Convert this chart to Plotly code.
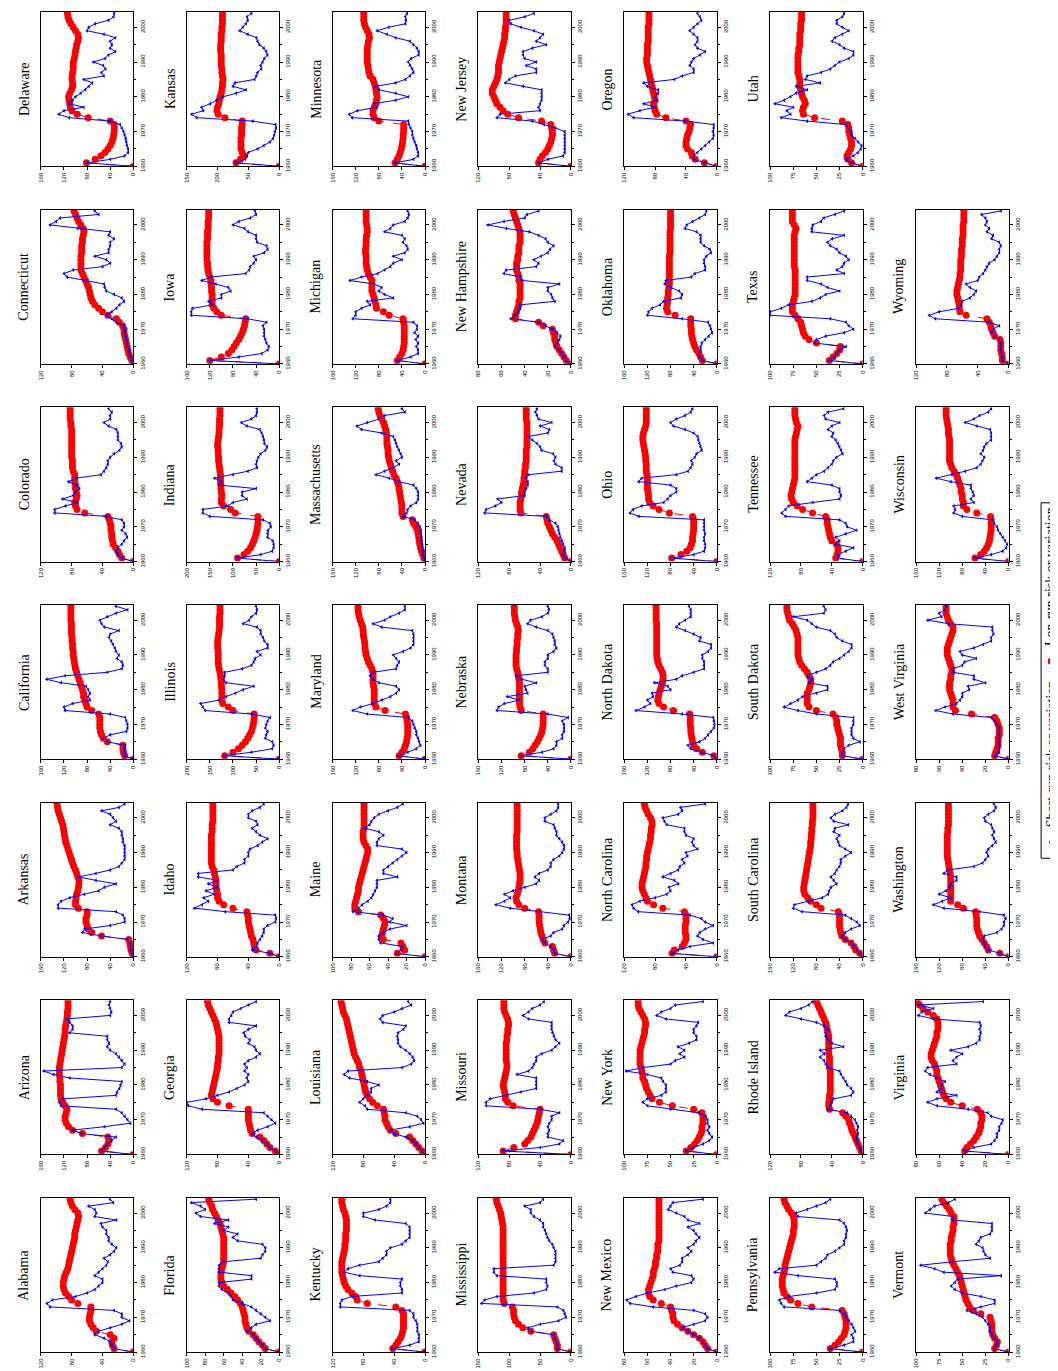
import plotly.graph_objects as go

W, H = 1058, 1371
years = list(range(1960, 2005))

# ---------------- data ----------------
alabama_long = [0,25,27,28,25,30,48,52,55,57, 57,56,55,55,72,80,84,88,90,91, 91,90,89,87,85,84,83,82,81,80, 79,78,77,76,76,75,74,73,72,71, 72,76,79,81,82]
alabama_short = [0,25,28,30,38,50,45,30,15,5, 15,15,25,108,112,105,75,60,50,45, 40,40,50,45,40,35,33,38,30,25, 22,28,32,32,35,35,40,42,22,50, 48,50,58,26,30]
arizona_long = [0,55,48,44,42,44,88,105,112,116, 118,118,116,115,118,122,125,126,126,126, 126,127,127,128,128,128,127,126,125,124, 123,122,121,120,119,118,118,117,116,115, 114,114,113,113,113]
arizona_short = [0,55,50,45,38,30,90,105,50,5, 10,15,20,30,125,128,122,30,28,24, 22,20,110,138,155,20,15,20,25,30, 40,45,42,45,45,110,105,105,110,115, 40,38,40,42,40]
arkansas_long = [0,2,4,5,6,8,55,72,78,80, 82,82,80,80,95,100,100,99,98,96, 95,94,94,96,98,100,103,105,107,109, 111,113,115,117,118,119,120,121,122,124, 126,128,130,131,132]
arkansas_short = [0,2,4,5,6,10,55,88,84,40, 15,15,18,30,130,130,125,110,85,60, 50,30,65,95,65,40,25,20,15,15, 15,15,15,18,18,20,20,25,40,30, 35,40,55,25,15]
california_long = [0,15,17,18,18,45,52,55,57,58, 58,58,58,60,72,80,82,84,86,86, 88,90,92,94,96,98,100,101,102,103, 104,104,105,105,106,106,107,107,107,107, 108,108,108,108,108]
california_short = [0,15,16,15,14,45,52,40,12,10, 10,12,14,40,118,120,105,75,78,75, 78,82,125,150,118,45,20,18,20,28, 25,30,32,35,38,42,40,25,50,55, 58,45,30,10,30]
colorado_long = [0,15,18,20,23,26,27,28,28,29, 29,30,31,33,63,73,75,76,74,73, 74,75,75,76,76,76,78,79,79,79, 80,80,80,80,80,80,80,80,80,81, 81,82,82,82,82]
colorado_short = [0,15,20,22,20,15,12,8,10,15, 12,12,15,35,102,102,88,72,92,78, 75,70,74,84,74,42,38,35,33,33, 30,25,18,15,16,20,20,20,22,32, 38,30,30,28,32]
connecticut_long = [0,2,4,6,7,8,9,10,11,12, 12,14,18,22,33,40,45,50,53,55, 56,57,58,60,62,64,66,68,68,68, 68,68,67,67,67,66,66,65,64,65, 68,71,73,75,77]
connecticut_short = [0,2,4,5,6,7,8,9,10,11, 12,12,22,28,35,28,22,18,12,15, 25,35,37,38,62,86,90,78,40,30, 35,50,32,32,30,30,25,32,30,72, 108,100,95,45,50]
delaware_long = [0,81,66,56,49,44,40,37,35,34, 33,33,33,40,78,97,106,109,110,111, 112,110,107,105,105,106,106,105,104,104, 104,102,101,100,99,98,96,95,96,100, 104,108,111,113,114]
delaware_short = [0,80,40,15,9,9,11,12,13,15, 17,20,23,40,111,129,120,86,111,105, 100,91,83,77,71,86,51,55,48,52, 69,49,43,31,40,37,40,31,51,80, 77,66,43,34,33]
florida_long = [0,15,18,22,25,28,33,35,36,37, 37,38,39,40,42,45,48,52,56,60, 62,63,63,63,62,61,60,60,60,60, 60,60,60,60,61,62,63,64,66,68, 70,72,73,75,76]
florida_short = [0,15,18,22,25,28,35,30,25,10, 15,20,25,30,40,50,52,55,62,65, 65,30,30,65,65,65,60,20,18,15, 15,18,45,50,45,60,55,70,55,85, 90,80,85,95,25]
georgia_long = [0,5,12,16,20,25,35,37,38,39, 40,40,40,40,65,80,86,88,87,86, 85,84,83,82,81,80,80,79,79,78, 78,78,78,78,78,79,80,81,82,84, 86,88,90,92,93]
georgia_short = [0,5,12,16,22,30,35,28,15,5, 10,15,20,100,118,120,95,80,65,55, 45,40,42,40,45,42,45,40,30,25, 30,32,40,38,44,46,40,30,65,65, 62,60,50,40,30]
idaho_long = [0,12,30,32,33,34,36,37,38,39, 40,40,41,42,60,72,78,80,80,81, 82,82,82,83,84,85,87,88,88,88, 88,88,88,88,88,88,87,87,87,86, 86,86,86,86,86]
idaho_short = [0,12,35,30,28,25,22,20,20,15, 5,4,5,70,110,100,92,98,84,95, 80,92,80,105,105,60,55,45,45,40, 40,38,28,22,15,25,30,35,28,30, 40,40,35,25,20]
illinois_long = [0,118,100,88,80,73,68,64,60,58, 56,55,54,54,100,110,122,124,124,124, 124,125,125,126,127,128,130,131,132,132, 132,132,133,133,133,132,131,130,129,129, 129,129,128,128,128]
illinois_short = [0,118,60,15,12,15,30,28,25,30, 28,25,20,60,160,165,170,130,115,95, 78,55,115,120,118,118,80,60,55,52, 40,48,25,25,32,35,40,40,48,78, 65,60,50,48,50]
indiana_long = [0,90,76,68,62,58,55,52,50,48, 47,46,46,46,95,105,120,125,125,124, 125,126,126,127,127,127,128,129,130,131, 131,132,132,133,133,132,131,130,130,129, 129,129,128,128,128]
indiana_short = [0,90,40,15,12,12,14,25,25,24, 18,20,35,150,165,165,110,100,70,80, 80,50,130,125,140,100,68,48,50,48, 45,40,30,26,32,33,35,38,42,70, 82,60,50,48,48]
iowa_long = [0,120,100,88,82,78,74,70,67,64, 62,60,59,58,100,108,113,116,116,116, 116,117,117,118,118,120,122,123,124,124, 125,125,125,125,125,125,124,124,124,123, 123,123,122,122,122]
iowa_short = [0,120,70,30,20,18,22,24,26,26, 26,28,22,55,152,152,150,115,122,100, 100,84,88,110,134,118,58,52,50,44, 40,44,26,20,22,38,40,40,54,60, 80,70,50,40,42]
kansas_long = [0,70,63,57,60,62,62,62,62,61, 61,61,60,60,88,99,101,100,98,97, 96,94,93,92,92,91,92,93,93,94, 94,94,94,95,95,95,94,94,94,93, 93,92,92,92,92]
kansas_short = [0,70,55,52,50,35,25,15,10,8, 7,5,6,43,134,142,123,126,112,102, 91,70,54,75,72,40,37,35,29,30, 27,24,19,21,25,32,35,37,51,64, 59,54,51,52,45]
kentucky_long = [0,42,38,35,32,30,29,28,28,28, 28,28,30,38,75,88,90,95,100,103, 105,106,107,108,108,108,108,107,106,105, 104,104,103,103,103,102,102,102,102,103, 104,106,107,108,108]
kentucky_short = [0,42,20,8,8,8,10,10,10,12, 15,15,20,110,110,108,95,30,30,32, 32,30,85,105,100,85,60,55,50,50, 45,30,25,20,20,20,20,25,65,80, 80,60,50,45,45]
louisiana_long = [0,4,8,12,16,20,38,45,48,50, 52,52,53,54,62,68,72,75,77,78, 79,80,81,82,83,85,86,88,90,92, 93,94,95,96,97,98,99,100,101,102, 104,106,107,108,109]
louisiana_short = [0,4,8,12,16,25,40,45,20,2, 5,10,25,75,78,85,80,75,70,70, 60,75,98,105,100,30,18,14,16,20, 25,32,35,35,36,35,28,25,55,58, 55,40,30,18,22]
maine_long = [0,30,22,24,26,45,47,46,45,44, 43,45,48,72,76,76,75,74,73,72, 72,71,70,69,68,67,66,65,64,63, 62,62,64,66,67,67,67,66,66,66, 66,66,66,66,66]
maine_short = [0,30,26,25,48,50,50,45,38,20, 38,35,45,78,72,68,62,58,56,54, 52,52,52,30,45,45,40,35,30,25, 20,25,52,52,50,45,50,65,60,58, 55,50,40,30,24]
maryland_long = [0,45,40,36,34,32,31,30,30,30, 30,31,32,34,69,85,88,88,88,88, 88,89,90,90,90,90,92,95,98,100, 102,103,104,104,105,106,107,107,108,110, 112,114,115,116,116]
maryland_short = [0,45,30,15,8,10,12,15,15,18, 20,22,30,100,125,112,90,75,60,50, 45,50,80,90,95,90,50,48,45,50, 55,38,25,20,20,20,20,22,75,90, 70,60,45,35,35]
massachusetts_long = [0,2,4,6,8,9,10,11,12,13, 16,20,22,38,40,40,40,41,42,43, 44,45,46,48,50,54,56,58,60,62, 63,64,64,65,66,66,66,67,68,70, 72,75,78,80,81]
massachusetts_short = [0,2,3,4,5,5,6,6,7,7, 9,12,18,38,32,30,25,15,12,12, 12,15,20,45,62,85,70,55,45,50, 40,42,45,48,50,52,55,75,110,118, 100,80,70,35,40]
michigan_long = [0,48,44,40,38,37,36,36,36,36, 36,36,37,38,62,72,84,85,87,88, 90,92,92,92,92,95,98,100,101,102, 102,102,103,103,102,102,102,101,100,100, 101,102,102,102,102]
michigan_short = [0,48,25,12,12,15,12,16,12,18, 14,14,20,125,120,120,110,95,100,55, 70,80,75,88,130,110,82,70,60,55, 40,55,35,30,32,38,35,40,70,60, 55,35,30,28,30]
minnesota_long = [0,52,48,45,43,41,40,39,38,38, 37,37,37,80,88,90,90,88,85,84, 83,84,85,86,88,90,95,97,98,99, 100,100,100,100,100,99,98,96,97,100, 103,105,106,106,106]
minnesota_short = [0,52,20,12,12,14,15,18,20,22, 22,25,28,29,126,131,117,83,89,51, 29,51,80,86,51,34,26,20,22,26, 29,24,11,11,14,20,26,51,66,83, 63,34,33,34,31]
mississippi_long = [0,22,22,24,26,28,65,78,85,90, 92,93,93,95,108,110,110,110,110,110, 110,110,110,110,110,110,110,110,110,110, 110,110,110,110,110,110,110,111,112,113, 114,116,118,120,121]
mississippi_short = [0,22,22,24,26,28,65,70,50,20, 8,10,12,22,145,140,120,60,40,38, 40,40,120,125,125,28,25,25,25,25, 28,30,35,38,40,42,45,45,50,60, 65,65,75,50,45]
missouri_long = [0,88,74,60,56,52,50,48,46,44, 43,42,41,40,75,82,85,85,86,87, 88,87,86,85,84,83,83,84,84,84, 84,84,84,83,83,82,82,81,81,82, 84,86,87,87,87]
missouri_short = [0,88,40,15,10,30,30,28,30,28, 25,25,15,40,110,110,105,85,65,45, 45,45,45,70,55,50,48,45,45,38, 25,20,15,20,22,24,25,25,25,55, 62,55,50,40,35]
montana_long = [0,28,30,32,45,48,50,52,53,54, 55,55,55,56,80,90,94,95,93,91, 90,89,88,88,88,89,90,91,92,93, 93,94,94,94,94,94,93,93,93,93, 93,93,93,93,93]
montana_short = [0,28,30,35,45,50,35,30,15,12, 5,2,3,55,105,130,115,105,115,100, 80,60,55,62,55,40,35,35,30,20, 15,12,12,15,20,25,25,28,30,45, 45,35,25,22,22]
nebraska_long = [0,86,72,66,62,58,55,52,50,49, 48,48,48,48,86,88,89,89,89,89, 89,89,89,90,91,92,94,95,95,95, 95,94,94,93,93,92,92,91,92,94, 96,97,98,98,98]
nebraska_short = [0,86,50,30,25,25,15,15,12,12, 12,15,5,40,128,125,115,90,110,75, 78,80,60,85,95,40,40,45,45,40, 40,30,25,28,28,30,32,40,60,75, 70,50,40,38,40]
nevada_long = [0,8,10,12,14,16,18,21,24,26, 28,30,31,32,65,66,66,66,65,64, 64,63,62,61,61,60,60,59,59,58, 58,58,58,57,57,57,57,57,57,57, 57,58,58,58,58]
nevada_short = [0,8,10,8,8,10,12,14,15,16, 17,20,28,32,112,110,98,90,95,60, 60,58,56,56,58,55,12,12,20,22, 20,23,38,40,44,50,55,30,28,40, 25,42,44,46,44]
new_hampshire_long = [0,4,6,8,10,12,13,14,14,15, 16,24,28,48,48,47,46,45,45,44, 44,44,44,44,45,45,46,47,47,47, 46,46,45,45,45,44,44,44,44,45, 46,47,48,49,50]
new_hampshire_short = [0,4,6,8,10,14,12,10,9,12, 16,22,28,52,48,46,44,44,14,16, 17,20,20,10,42,44,58,56,30,28, 32,26,20,18,15,20,22,28,36,56, 72,58,40,38,28]
new_jersey_long = [0,42,40,37,33,30,28,26,25,24, 24,25,26,38,68,82,88,92,96,98, 100,102,102,100,98,96,95,94,94,94, 93,92,91,90,89,88,87,86,86,85, 85,84,84,84,84]
new_jersey_short = [0,42,30,10,8,8,8,8,8,8, 8,20,35,50,96,92,40,42,40,38, 38,38,38,62,85,80,72,45,45,58, 45,60,62,62,50,32,45,40,36,48, 65,78,80,60,48]
new_mexico_long = [0,8,10,12,15,20,25,30,34,37, 38,38,39,40,48,55,58,59,59,58, 57,56,55,55,54,53,53,52,52,51, 51,51,50,50,50,50,50,50,50,50, 50,50,50,50,50]
new_mexico_short = [0,8,10,12,15,20,25,30,20,10, 8,10,20,55,75,78,70,60,45,35, 22,20,22,38,40,32,30,30,25,22, 25,20,18,15,18,20,25,15,25,28, 35,42,40,38,12]
new_york_long = [0,33,28,24,21,19,17,16,16,15, 15,15,16,25,48,62,70,72,74,76, 77,78,80,80,81,82,83,83,83,83, 83,82,81,80,79,78,78,77,77,78, 80,82,84,85,85]
new_york_short = [0,33,25,15,8,5,8,10,8,10, 10,12,20,50,75,80,75,60,55,55, 55,58,60,75,98,80,50,45,35,40, 35,42,30,22,22,25,25,22,20,55, 65,60,50,45,15]
north_carolina_long = [0,58,55,45,42,40,40,41,41,41, 40,40,40,42,70,82,90,92,94,96, 97,97,96,95,94,93,92,92,91,91, 90,89,88,87,86,86,85,85,84,84, 86,89,91,93,94]
north_carolina_short = [0,58,50,35,5,18,25,22,15,5, 15,20,35,102,108,110,100,80,65,60, 62,50,55,70,60,50,48,42,45,38, 40,25,30,32,30,40,42,42,65,68, 70,50,45,47,15]
north_dakota_long = [0,5,25,35,40,42,43,44,45,45, 46,46,46,47,75,92,100,102,101,100, 98,96,94,93,93,94,97,100,102,103, 104,104,104,104,104,104,104,104,104,104, 105,105,105,105,105]
north_dakota_short = [0,5,25,45,50,30,20,15,10,5, 4,5,6,60,140,125,115,120,110,112, 80,85,108,70,60,40,22,22,22,25, 25,15,10,10,30,28,40,55,70,65, 55,45,45,45,48]
ohio_long = [0,78,62,52,46,44,42,42,41,40, 40,40,40,42,82,100,110,116,118,118, 119,120,120,120,120,121,122,122,122,123, 123,124,125,126,127,128,128,127,125,123, 122,122,122,122,122]
ohio_short = [0,78,40,22,20,20,22,22,20,22, 22,22,22,135,150,145,130,92,85,80, 70,70,80,135,130,70,50,45,42,44, 38,35,26,28,30,32,33,40,55,75, 80,70,55,45,42]
oklahoma_long = [0,25,28,31,35,38,40,42,43,44, 44,45,45,45,72,85,87,86,85,85, 84,84,83,82,82,82,82,82,82,82, 82,82,81,81,81,81,81,81,81,80, 80,80,80,80,80]
oklahoma_short = [0,25,30,30,28,28,26,20,14,8, 10,12,15,60,120,118,112,98,92,62, 60,65,80,90,88,44,38,20,20,22, 22,18,10,12,22,28,28,28,35,55, 52,42,30,20,18]
oregon_long = [0,16,28,32,33,38,40,40,39,38, 36,35,34,40,66,78,80,81,82,80, 81,82,83,84,85,86,87,88,89,90, 91,91,90,90,90,90,89,89,89,89, 89,88,88,88,88]
oregon_short = [0,16,30,30,25,20,15,10,5,4, 5,4,4,40,108,115,100,80,95,78, 80,76,76,90,95,55,45,30,30,35, 33,30,22,15,25,28,25,25,30,35, 30,25,20,22,25]
pennsylvania_long = [0,35,30,26,23,20,19,18,18,18, 19,20,22,55,70,78,82,85,86,87, 87,87,86,85,84,84,83,82,81,80, 79,78,77,76,75,75,74,74,74,75, 77,80,82,84,85]
pennsylvania_short = [0,35,20,10,10,12,8,10,12,15, 18,20,25,85,88,90,80,50,30,28, 28,30,70,95,90,50,45,40,38,30, 25,20,20,18,18,17,18,20,25,70, 72,60,50,40,35]
rhode_island_long = [0,2,4,6,8,10,12,14,15,17, 18,22,26,43,44,44,43,43,42,42, 42,42,42,42,42,43,43,43,43,44, 44,44,44,44,44,45,46,47,48,50, 52,54,56,58,60]
rhode_island_short = [0,2,4,6,8,8,6,7,6,8, 10,15,20,45,42,40,38,15,12,15, 20,22,25,28,30,45,48,50,55,50, 55,25,40,45,48,48,45,50,60,80, 100,95,80,70,65]
south_carolina_long = [0,5,12,15,20,30,36,38,39,40, 40,40,40,42,72,80,90,95,100,102, 102,101,100,99,98,97,96,95,94,93, 92,91,90,90,89,89,88,88,87,87, 86,86,86,86,86]
south_carolina_short = [0,5,10,15,20,30,36,30,20,5, 10,20,30,105,120,118,95,70,60,58, 55,45,50,55,48,45,40,38,38,30, 20,30,40,42,45,40,50,48,25,50, 55,48,35,28,25]
south_dakota_long = [0,22,22,23,24,24,24,25,26,27, 28,28,29,32,50,58,60,60,60,60, 58,57,56,56,58,60,63,66,68,69, 70,70,70,70,70,70,71,72,74,76, 79,80,81,82,82]
south_dakota_short = [0,22,22,20,15,3,10,12,12,12, 10,10,10,50,70,85,78,70,65,50, 38,38,58,55,60,50,40,35,32,25, 20,15,12,12,22,28,30,35,50,55, 60,75,42,40,42]
tennessee_long = [0,35,33,32,32,34,40,42,43,44, 45,46,46,48,65,78,85,90,92,93, 92,91,90,89,88,88,88,88,88,88, 88,88,88,88,88,88,87,86,85,84, 86,87,88,88,88]
tennessee_short = [0,32,32,22,12,35,30,35,22,8, 20,22,30,100,105,100,96,65,30,28, 30,30,40,72,66,60,50,45,40,38, 34,26,28,30,32,35,40,38,45,40, 30,48,50,45,25]
texas_long = [0,36,32,28,25,24,50,58,62,64, 65,66,67,70,73,76,76,76,75,74, 73,73,73,73,73,73,73,73,74,74, 74,74,74,74,74,74,74,74,73,72, 74,76,76,76,76]
texas_short = [0,36,30,28,25,18,52,50,40,20, 10,15,18,35,100,100,88,80,55,46, 40,25,38,45,60,60,20,28,22,20, 15,18,25,28,35,38,33,20,55,55, 54,45,42,30,20]
utah_long = [0,12,16,17,15,13,12,12,13,14, 15,15,16,22,52,64,65,64,62,63, 65,66,67,68,68,68,69,70,70,70, 70,70,70,69,69,68,68,68,68,67, 67,67,66,66,66]
utah_short = [0,12,18,10,5,2,1,5,8,12, 12,15,18,60,88,78,82,75,95,85, 78,72,60,72,46,62,60,45,35,30, 25,15,10,10,20,25,33,30,22,15, 22,28,28,22,20]
vermont_long = [0,15,13,12,15,17,18,18,18,19, 20,30,38,42,44,46,47,48,49,50, 51,52,53,55,57,59,61,62,63,63, 63,63,62,62,61,60,60,59,59,59, 62,64,67,70,72]
vermont_short = [0,15,13,12,15,18,20,20,22,25, 28,35,45,30,15,15,30,50,58,62, 58,55,8,70,80,95,60,20,25,27, 28,35,32,30,20,18,18,18,60,60, 90,85,80,65,58]
virginia_long = [0,38,36,33,30,28,26,25,24,24, 23,23,24,27,40,50,54,56,57,58, 59,60,61,62,62,63,64,66,67,67, 66,65,64,63,62,62,61,61,61,62, 65,70,74,77,79]
virginia_short = [0,38,30,15,12,10,10,8,8,6, 5,15,18,35,62,70,62,45,62,58, 58,55,62,68,72,70,45,48,45,40, 50,35,28,25,25,24,25,24,25,65, 78,75,65,78,22]
washington_long = [0,15,35,38,42,46,50,52,54,55, 55,55,56,57,78,88,100,100,100,100, 100,100,100,100,101,102,103,104,105,106, 106,106,106,106,106,106,105,105,104,104, 104,104,104,104,104]
washington_short = [0,15,35,40,42,45,42,20,12,8, 8,5,8,50,112,130,115,100,120,108, 102,100,90,90,112,105,60,45,40,35, 38,35,28,22,25,28,25,28,30,40, 42,35,25,22,25]
west_virginia_long = [0,12,11,10,9,9,9,8,8,8, 9,10,12,32,46,48,48,48,49,50, 51,51,51,50,50,49,49,50,51,52, 53,53,53,52,51,50,49,48,48,50, 52,53,54,54,54]
west_virginia_short = [0,12,8,8,8,8,8,8,8,8, 10,12,15,48,63,55,45,42,40,40, 34,35,20,30,30,48,48,40,38,28, 40,42,30,22,15,15,13,14,14,52, 70,58,60,55,54]
wisconsin_long = [0,58,48,42,38,35,33,32,31,30, 30,30,30,31,55,72,78,78,80,80, 82,82,84,86,88,90,94,98,100,102, 102,102,102,102,102,102,103,104,104,105, 106,107,108,108,108]
wisconsin_short = [0,58,30,10,4,2,6,10,14,18, 20,25,28,80,95,92,95,60,65,60, 62,65,65,100,125,98,75,55,48,45, 42,48,44,42,38,30,30,30,32,55, 75,60,50,35,30]
wyoming_long = [0,8,8,9,10,10,10,11,18,20, 22,23,25,28,55,63,64,64,65,66, 67,67,66,65,64,63,63,62,62,62, 62,61,61,61,60,60,60,59,59,59, 59,58,58,58,58]
wyoming_short = [0,8,8,9,10,10,10,12,18,22, 20,12,25,95,103,90,65,62,60,50, 45,42,50,55,40,38,33,30,28,25, 18,15,12,12,10,12,22,20,28,25, 30,28,30,35,10]

state_names = ["Alabama", "Arizona", "Arkansas", "California", "Colorado", "Connecticut", "Delaware",
               "Florida", "Georgia", "Idaho", "Illinois", "Indiana", "Iowa", "Kansas",
               "Kentucky", "Louisiana", "Maine", "Maryland", "Massachusetts", "Michigan", "Minnesota",
               "Mississippi", "Missouri", "Montana", "Nebraska", "Nevada", "New Hampshire", "New Jersey",
               "New Mexico", "New York", "North Carolina", "North Dakota", "Ohio", "Oklahoma", "Oregon",
               "Pennsylvania", "Rhode Island", "South Carolina", "South Dakota", "Tennessee", "Texas", "Utah",
               "Vermont", "Virginia", "Washington", "West Virginia", "Wisconsin", "Wyoming"]
short_series = [alabama_short, arizona_short, arkansas_short, california_short, colorado_short, connecticut_short, delaware_short,
                florida_short, georgia_short, idaho_short, illinois_short, indiana_short, iowa_short, kansas_short,
                kentucky_short, louisiana_short, maine_short, maryland_short, massachusetts_short, michigan_short, minnesota_short,
                mississippi_short, missouri_short, montana_short, nebraska_short, nevada_short, new_hampshire_short, new_jersey_short,
                new_mexico_short, new_york_short, north_carolina_short, north_dakota_short, ohio_short, oklahoma_short, oregon_short,
                pennsylvania_short, rhode_island_short, south_carolina_short, south_dakota_short, tennessee_short, texas_short, utah_short,
                vermont_short, virginia_short, washington_short, west_virginia_short, wisconsin_short, wyoming_short]
long_series = [alabama_long, arizona_long, arkansas_long, california_long, colorado_long, connecticut_long, delaware_long,
               florida_long, georgia_long, idaho_long, illinois_long, indiana_long, iowa_long, kansas_long,
               kentucky_long, louisiana_long, maine_long, maryland_long, massachusetts_long, michigan_long, minnesota_long,
               mississippi_long, missouri_long, montana_long, nebraska_long, nevada_long, new_hampshire_long, new_jersey_long,
               new_mexico_long, new_york_long, north_carolina_long, north_dakota_long, ohio_long, oklahoma_long, oregon_long,
               pennsylvania_long, rhode_island_long, south_carolina_long, south_dakota_long, tennessee_long, texas_long, utah_long,
               vermont_long, virginia_long, washington_long, west_virginia_long, wisconsin_long, wyoming_long]
axis_max = [120, 160, 160, 160, 120, 120, 160,
            100, 120, 120, 200, 200, 160, 150,
            120, 120, 100, 160, 160, 160, 160,
            150, 120, 160, 160, 120, 80, 120,
            80, 100, 120, 160, 160, 160, 120,
            100, 120, 160, 100, 120, 100, 100,
            100, 80, 160, 80, 160, 120]
tick_step = [40, 40, 40, 40, 40, 40, 40,
             20, 40, 40, 50, 50, 40, 50,
             40, 40, 20, 40, 40, 40, 40,
             50, 40, 40, 40, 40, 20, 40,
             20, 25, 40, 40, 40, 40, 40,
             25, 40, 40, 25, 40, 25, 25,
             25, 20, 40, 20, 40, 40]
year_ticks = [1960, 1970, 1980, 1990, 2000]
legend_labels = ["Short-run risk or variation", "Lon-run risk or variation"]

BLUE = "#0000ff"
RED = "#ff0000"
TICKFONT = dict(family="Liberation Sans, Arial, sans-serif", size=6, color="black")
TITLEFONT = dict(family="Liberation Serif, Times New Roman, serif", size=14, color="black")

# panel geometry (pixels)
COL_X0, COL_DX, PW = 30, 146.7, 93
ROW_Y0, ROW_DY, PH = 4, 198.5, 155


def px_x(x):
    return x / W


def px_y(y):
    return 1 - y / H


fig = go.Figure()
layout_axes = {}
annotations = []
shapes = []

for k, name in enumerate(state_names):
    col = k // 7
    row = 6 - (k % 7)
    x0 = COL_X0 + COL_DX * col
    x1 = x0 + PW
    y0 = ROW_Y0 + ROW_DY * row
    y1 = y0 + PH
    i = k + 1
    xa = "x" if i == 1 else f"x{i}"
    ya = "y" if i == 1 else f"y{i}"
    lv = long_series[k]
    sv = short_series[k]
    fig.add_trace(go.Scatter(
        x=lv, y=years[:len(lv)], xaxis=xa, yaxis=ya, mode="lines+markers",
        line=dict(color=RED, width=1, dash="dash"),
        marker=dict(color=RED, size=7, line=dict(width=0)),
        showlegend=False, hoverinfo="skip"))
    fig.add_trace(go.Scatter(
        x=sv, y=years[:len(sv)], xaxis=xa, yaxis=ya, mode="lines+markers",
        line=dict(color=BLUE, width=1),
        marker=dict(color=BLUE, size=3.5, symbol="triangle-left", line=dict(width=0)),
        showlegend=False, hoverinfo="skip"))
    mx = axis_max[k]
    st = tick_step[k]
    tv = list(range(0, mx + 1, st))
    layout_axes["xaxis" if i == 1 else f"xaxis{i}"] = dict(
        domain=[px_x(x0), px_x(x1)], anchor=ya, range=[mx, 0],
        tickvals=tv, ticktext=[str(v) for v in tv], tickangle=-90,
        ticks="outside", ticklen=3, tickwidth=1, tickcolor="black",
        showline=True, mirror=True, linecolor="black", linewidth=1,
        showgrid=False, zeroline=False, tickfont=TICKFONT, fixedrange=True)
    layout_axes["yaxis" if i == 1 else f"yaxis{i}"] = dict(
        domain=[px_y(y1), px_y(y0)], anchor=xa, range=[1960, 2004.4], side="right",
        tickvals=year_ticks, ticktext=[str(v) for v in year_ticks], tickangle=-90,
        ticks="outside", ticklen=3, tickwidth=1, tickcolor="black",
        minor=dict(dtick=5, tick0=1960, ticks="outside", ticklen=2, tickcolor="black"),
        showline=True, mirror=True, linecolor="black", linewidth=1,
        showgrid=False, zeroline=False, tickfont=TICKFONT, fixedrange=True)
    annotations.append(dict(
        text=name, xref="paper", yref="paper", x=px_x(x0 - 17), y=px_y((y0 + y1) / 2),
        xanchor="center", yanchor="middle", textangle=-90, showarrow=False, font=TITLEFONT))

# ---------------- legend (drawn manually, rotated) ----------------
LX0, LX1 = 1036, 1056
LY0, LY1 = 497, 854
LXC = (LX0 + LX1) / 2
SHORT_LEN, LONG_LEN = 147, 139
shapes.append(dict(type="rect", xref="paper", yref="paper",
                   x0=px_x(LX0), x1=px_x(LX1), y0=px_y(LY1), y1=px_y(LY0),
                   line=dict(color="black", width=1), fillcolor="white", layer="below"))
# short-run symbol (bottom of the rotated legend)
sy0 = LY1 - 6
shapes.append(dict(type="line", xref="paper", yref="paper",
                   x0=px_x(LXC), x1=px_x(LXC), y0=px_y(sy0), y1=px_y(sy0 - 20),
                   line=dict(color=BLUE, width=1)))
shapes.append(dict(type="path", xref="paper", yref="paper",
                   path=f"M {px_x(LXC-2)},{px_y(sy0-10)} L {px_x(LXC+2)},{px_y(sy0-12)} L {px_x(LXC+2)},{px_y(sy0-8)} Z",
                   line=dict(color=BLUE, width=1), fillcolor=BLUE))
s_text_bottom = sy0 - 25
annotations.append(dict(text=legend_labels[0], xref="paper", yref="paper",
                        x=px_x(LXC), y=px_y(s_text_bottom - SHORT_LEN / 2), xanchor="center", yanchor="middle",
                        textangle=-90, showarrow=False, font=TITLEFONT))
# long-run symbol
ry = s_text_bottom - SHORT_LEN - 10
shapes.append(dict(type="line", xref="paper", yref="paper",
                   x0=px_x(LXC), x1=px_x(LXC), y0=px_y(ry), y1=px_y(ry - 20),
                   line=dict(color=RED, width=1, dash="dash")))
shapes.append(dict(type="circle", xref="paper", yref="paper",
                   x0=px_x(LXC - 3.5), x1=px_x(LXC + 3.5), y0=px_y(ry - 6.5), y1=px_y(ry - 13.5),
                   line=dict(color=RED, width=0), fillcolor=RED))
l_text_bottom = ry - 25
annotations.append(dict(text=legend_labels[1], xref="paper", yref="paper",
                        x=px_x(LXC), y=px_y(l_text_bottom - LONG_LEN / 2), xanchor="center", yanchor="middle",
                        textangle=-90, showarrow=False, font=TITLEFONT))

fig.update_layout(
    width=W, height=H, margin=dict(l=0, r=0, t=0, b=0),
    paper_bgcolor="white", plot_bgcolor="white",
    showlegend=False, annotations=annotations, shapes=shapes,
    font=dict(family="Liberation Sans, Arial, sans-serif", color="black"),
    **layout_axes)

fig.write_html("out.html")
